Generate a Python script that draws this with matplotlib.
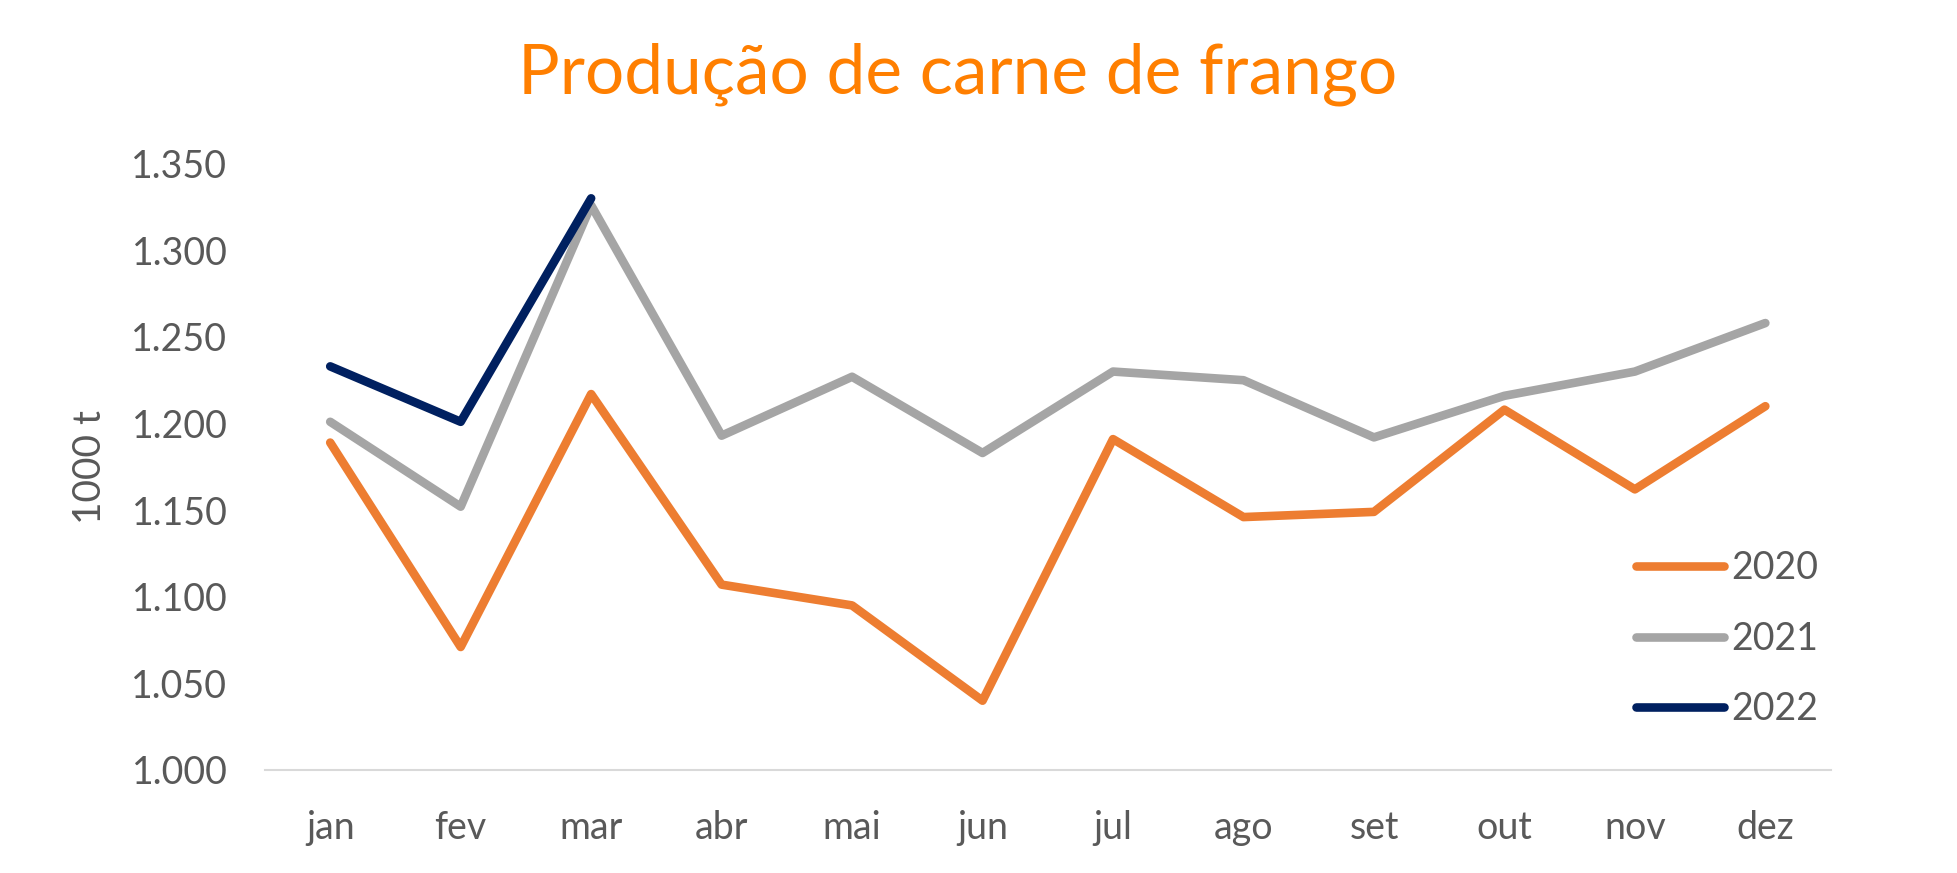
import matplotlib
matplotlib.use("Agg")
import matplotlib.pyplot as plt
from matplotlib.ticker import FuncFormatter

months = ["jan", "fev", "mar", "abr", "mai", "jun", "jul", "ago", "set", "out", "nov", "dez"]
y2020 = [1.189, 1.071, 1.217, 1.107, 1.095, 1.040, 1.191, 1.146, 1.149, 1.208, 1.162, 1.210]
y2021 = [1.201, 1.152, 1.326, 1.193, 1.227, 1.183, 1.230, 1.225, 1.192, 1.216, 1.230, 1.258]
y2022 = [1.233, 1.201, 1.330]
series_labels = ["2020", "2021", "2022"]
colors = ["#ED7D31", "#A5A5A5", "#002060"]
yticks = [1.000, 1.050, 1.100, 1.150, 1.200, 1.250, 1.300, 1.350]

plt.rcParams['font.family'] = ['Lato', 'DejaVu Sans']
text_color = "#595959"

fig = plt.figure(figsize=(19.57, 8.73), dpi=100)
ax = fig.add_axes([0.1354, 0.118, 0.800, 0.6945])

xs = list(range(len(months)))
for data, lab, col in zip([y2020, y2021, y2022], series_labels, colors):
    ax.plot(xs[:len(data)], data, color=col, lw=6.2, label=lab,
            solid_capstyle='round', solid_joinstyle='round')

ax.set_xlim(-0.5, len(months) - 0.5)
ax.set_ylim(1.000, 1.350)
ax.set_yticks(yticks)
ax.yaxis.set_major_formatter(FuncFormatter(lambda v, p: f"{v:.3f}"))
ax.set_xticks(xs)
ax.set_xticklabels(months)

for s in ["top", "right", "left"]:
    ax.spines[s].set_visible(False)
ax.spines["bottom"].set_color("#D9D9D9")
ax.spines["bottom"].set_linewidth(1.5)
ax.tick_params(axis='both', length=0, labelsize=27, colors=text_color)
ax.tick_params(axis='y', pad=27)
ax.tick_params(axis='x', pad=29)

ax.set_ylabel("1000 t", fontsize=28, color=text_color, labelpad=17)

fig.text(0.4895, 0.915, "Produção de carne de frango", ha='center', va='center',
         fontsize=50, color="#FF7F00")

leg = ax.legend(loc='lower right', bbox_to_anchor=(1.014, 0.015), frameon=False,
                fontsize=27, handlelength=2.35, handletextpad=0.2, labelspacing=0.92,
                labelcolor=text_color)

fig.savefig("out.png", dpi=100)
